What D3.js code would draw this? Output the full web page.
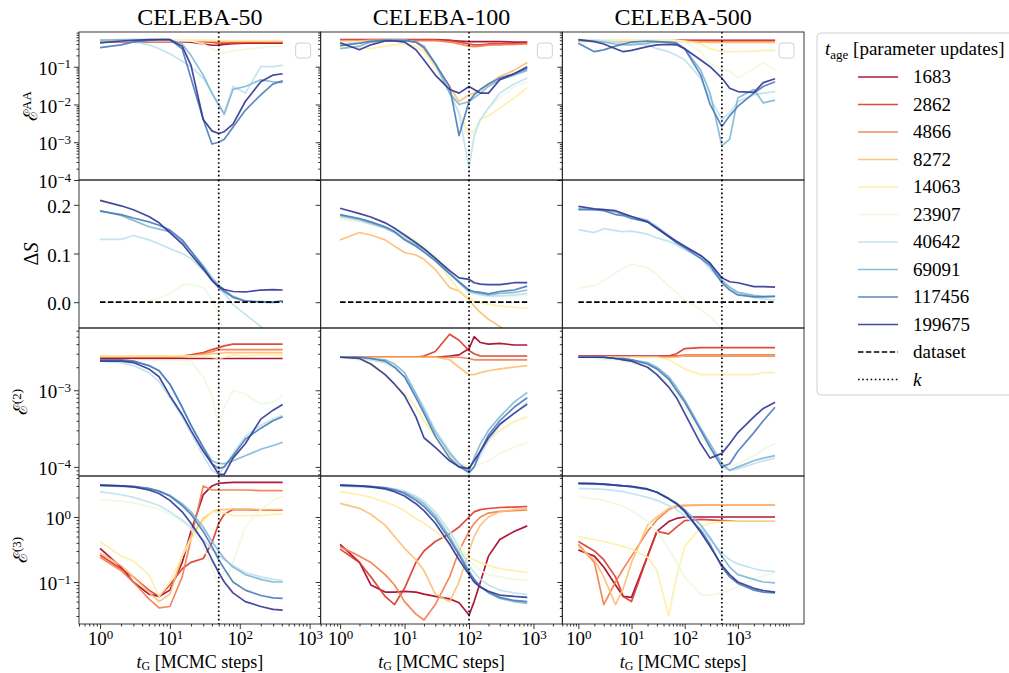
<!DOCTYPE html>
<html>
<head>
<meta charset="utf-8">
<script src="https://cdn.jsdelivr.net/npm/d3@7"></script>
<style>
body { margin: 0; background: #fff; }
svg text { font-family: "Liberation Serif", "Times New Roman", Times, serif; fill: #000; }
</style>
</head>
<body>
<div id="vis"></div>
<script>
// columns and shared values
var titles = ["CELEBA-50", "CELEBA-100", "CELEBA-500"];
var kSteps = [50, 100, 500];
var tMax = [411, 800, 5000];
var tAge = [1683, 2862, 4866, 8272, 14063, 23907, 40642, 69091, 117456, 199675];
var colors = ["#a50026", "#da372a", "#f67b4a", "#fdbf71", "#feeea5", "#eef8df", "#bce2ee", "#80b7d6", "#4a7bb7", "#313695"];

// MCMC steps where each column was sampled
var tG50 = [1, 2, 3, 5, 7, 10, 15, 20, 30, 40, 50, 60, 80, 120, 200, 300, 411];
var tG100 = [1, 2, 3, 5, 7, 10, 15, 20, 30, 50, 70, 100, 120, 150, 200, 300, 500, 800];
var tG500 = [1, 2, 3, 5, 7, 10, 20, 30, 50, 70, 100, 200, 300, 500, 700, 1000, 2000, 3000, 5000];

// E^AA
var eAA50 = [
  [.46,.46,.46,.46,.46,.46,.46,.45,.40,.37,.37,.39,.41,.42,.42,.42,.42],
  [.47,.47,.47,.47,.47,.47,.47,.47,.46,.44,.42,.42,.43,.44,.44,.44,.44],
  [.48,.48,.48,.48,.48,.48,.48,.48,.48,.47,.46,.46,.46,.46,.46,.46,.46],
  [.49,.49,.49,.49,.49,.49,.49,.49,.49,.49,.48,.48,.48,.48,.48,.48,.48],
  [.5,.5,.5,.5,.5,.5,.5,.5,.5,.5,.5,.49,.49,.49,.49,.49,.49],
  [.5,.5,.5,.5,.5,.5,.5,.48,.4,.3,.25,.23,.26,.29,.32,.34,.34],
  [.52,.5,.46,.38,.3,.22,.14,.1,.05,.02,.009,.006,.03,.02,.1,.1,.11],
  [.5,.52,.52,.52,.52,.52,.4,.2,.06,.02,.01,.0055,.025,.03,.045,.04,.038],
  [.32,.38,.45,.5,.52,.52,.3,.05,.004,.0009,.001,.0012,.0025,.007,.018,.035,.042],
  [.43,.48,.5,.52,.52,.52,.35,.11,.004,.002,.0017,.0019,.003,.012,.04,.06,.065]
];
var eAA100 = [
  [.52,.52,.52,.52,.52,.52,.52,.52,.52,.5,.48,.46,.46,.46,.46,.46,.45,.45],
  [.5,.5,.5,.5,.5,.5,.5,.5,.5,.5,.45,.4,.38,.38,.4,.4,.41,.42],
  [.5,.5,.5,.5,.5,.5,.5,.5,.5,.45,.4,.35,.34,.35,.37,.38,.39,.4],
  [.48,.48,.5,.5,.5,.5,.45,.3,.1,.03,.012,.018,.02,.025,.035,.055,.08,.13],
  [.35,.32,.3,.35,.38,.4,.35,.25,.1,.02,.006,.0018,.002,.004,.005,.008,.015,.028],
  [.45,.45,.45,.48,.5,.5,.45,.35,.12,.02,.006,.0012,.002,.004,.008,.015,.03,.04],
  [.4,.42,.45,.48,.5,.5,.45,.35,.12,.02,.006,.0002,.0015,.004,.008,.02,.035,.05],
  [.3,.35,.45,.5,.5,.5,.45,.35,.12,.02,.01,.012,.015,.02,.03,.045,.06,.08],
  [.36,.42,.47,.5,.5,.5,.45,.32,.12,.03,.0015,.012,.018,.025,.035,.05,.065,.09],
  [.43,.28,.38,.48,.48,.45,.28,.15,.06,.025,.02,.03,.025,.02,.02,.045,.065,.1]
];
var eAA500 = [
  [.5,.5,.5,.5,.5,.5,.5,.5,.5,.5,.5,.5,.5,.5,.5,.5,.5,.5,.5],
  [.49,.49,.49,.49,.49,.49,.49,.49,.49,.49,.49,.48,.48,.48,.48,.48,.48,.48,.48],
  [.48,.48,.48,.48,.48,.48,.48,.48,.48,.48,.47,.46,.46,.46,.46,.46,.46,.46,.46],
  [.47,.47,.47,.47,.47,.47,.47,.47,.47,.47,.46,.45,.44,.44,.44,.44,.44,.44,.44],
  [.5,.5,.5,.5,.5,.5,.5,.5,.5,.5,.48,.4,.3,.25,.25,.25,.26,.27,.27],
  [.52,.52,.52,.52,.52,.52,.52,.52,.52,.5,.45,.25,.12,.085,.075,.05,.09,.13,.08],
  [.52,.5,.48,.45,.42,.4,.38,.3,.25,.2,.15,.05,.015,.004,.006,.012,.018,.02,.022],
  [.5,.48,.45,.4,.38,.38,.42,.45,.45,.42,.3,.08,.02,.0008,.0012,.015,.025,.011,.013],
  [.42,.25,.28,.35,.4,.45,.48,.46,.44,.42,.3,.06,.01,.0026,.005,.009,.02,.03,.04],
  [.52,.46,.4,.3,.25,.27,.34,.38,.39,.38,.3,.15,.1,.05,.027,.022,.021,.038,.048]
];

// Delta S
var dS50 = [
  null, null, null, null, null,
  [0,0,0,.003,.008,.018,.035,.037,.03,.005,-.025,-.06,-.12,-.2,-.2,-.2,-.2],
  [.129,.129,.137,.128,.12,.11,.1,.09,.065,.045,.03,.018,-.005,-.025,-.05,-.07,-.09],
  [.188,.178,.168,.155,.15,.145,.125,.105,.075,.05,.035,.025,.012,.003,0,-.001,.002],
  [.187,.18,.173,.165,.158,.148,.128,.105,.072,.045,.03,.022,.01,.002,.001,0,.003],
  [.209,.198,.19,.176,.163,.143,.12,.098,.068,.045,.032,.026,.022,.021,.025,.026,.025]
];
var dS100 = [
  null, null, null,
  [.128,.143,.138,.128,.115,.102,.097,.088,.067,.03,.023,.006,-.008,-.021,-.035,-.05,-.07,-.09],
  [.175,.17,.163,.152,.144,.132,.118,.105,.085,.05,.025,.008,.002,-.002,-.004,-.008,-.01,-.012],
  [.17,.165,.16,.152,.146,.14,.127,.115,.095,.065,.042,.024,.02,.016,.013,.012,.013,.015],
  [.175,.168,.16,.152,.145,.135,.122,.11,.092,.062,.04,.022,.018,.015,.013,.013,.015,.018],
  [.178,.17,.163,.153,.143,.13,.118,.108,.09,.06,.04,.022,.02,.018,.015,.018,.02,.025],
  [.18,.172,.165,.155,.145,.128,.115,.103,.085,.058,.042,.025,.022,.02,.017,.022,.025,.033],
  [.193,.182,.175,.163,.152,.138,.122,.11,.09,.065,.05,.047,.04,.037,.036,.036,.04,.04]
];
var dS500 = [
  null, null, null, null, null,
  [.029,.034,.045,.06,.07,.078,.071,.057,.033,.02,.005,-.015,-.03,-.055,-.07,-.08,-.1,-.1,-.1],
  [.149,.143,.151,.147,.145,.146,.14,.132,.125,.118,.108,.09,.068,.045,.032,.02,.01,.007,.004],
  [.192,.19,.19,.185,.18,.176,.168,.155,.137,.125,.114,.095,.08,.045,.03,.02,.014,.012,.012],
  [.19,.19,.188,.18,.178,.172,.165,.152,.135,.122,.112,.09,.075,.04,.025,.015,.011,.011,.012],
  [.197,.192,.19,.188,.182,.176,.165,.152,.135,.125,.115,.096,.08,.05,.042,.04,.032,.032,.031]
];

// E^(2)
var e2_50 = [
  [.0026,.0026,.0026,.0026,.0026,.0026,.0026,.0026,.0026,.0026,.0026,.0026,.0026,.0026,.0026,.0026,.0026],
  [.0027,.0027,.0027,.0027,.0027,.0027,.0028,.0029,.0031,.0034,.0036,.0038,.004,.004,.004,.004,.004],
  [.0027,.0027,.0027,.0027,.0027,.0027,.0027,.0028,.003,.0032,.0034,.0034,.0034,.0034,.0034,.0034,.0034],
  [.0028,.0028,.0028,.0028,.0028,.0028,.0028,.0028,.0029,.003,.003,.0031,.0031,.0031,.0031,.0031,.0031],
  [.0028,.0028,.0028,.0028,.0028,.0028,.0028,.0028,.0028,.0027,.0026,.0027,.0029,.0028,.0029,.0029,.0029],
  [.00245,.00245,.00245,.00245,.00245,.00245,.00245,.0024,.0015,.00085,.00033,.0006,.001,.0009,.00066,.0007,.00085],
  [.0024,.0023,.0021,.0017,.0013,.0008,.00045,.00028,.00014,.00009,.00008,.0001,.00015,.00025,.00035,.00042,.00047],
  [.0025,.0025,.0024,.0021,.0018,.0012,.0006,.00035,.00018,.00012,.00011,.00011,.00012,.00014,.00017,.00019,.00021],
  [.0025,.0025,.0024,.0021,.0018,.0012,.0006,.00035,.00018,.00011,.000095,.0001,.00014,.00023,.00032,.0004,.00045],
  [.0024,.0024,.0023,.0019,.0015,.00085,.00048,.0003,.00016,.00011,.00008,.00008,.00013,.0002,.00042,.00055,.00065]
];
var e2_100 = [
  [.0027,.0027,.0027,.0027,.0027,.0027,.0027,.0027,.0027,.0028,.0029,.0035,.005,.0042,.004,.0041,.0039,.0039],
  [.0027,.0027,.0027,.0027,.0027,.0027,.0027,.0028,.0032,.0054,.0045,.0033,.003,.0028,.0028,.0028,.0028,.0028],
  [.0027,.0027,.0027,.0027,.0027,.0027,.0027,.0027,.0027,.0027,.0027,.0026,.0025,.0025,.0025,.0025,.0025,.0025],
  [.0027,.0027,.0027,.0027,.0027,.0027,.0027,.0027,.0027,.0025,.002,.0016,.0016,.0017,.0018,.0019,.002,.0021],
  [.0027,.0025,.0022,.0016,.0012,.0009,.0006,.0004,.00025,.00014,.00011,.0001,.00012,.00016,.00022,.0003,.00039,.00045],
  [.0027,.0026,.0025,.0022,.0019,.0015,.0009,.0006,.0003,.00016,.00011,.00009,.0001,.00011,.00012,.00015,.00018,.00021],
  [.0027,.0026,.0025,.0023,.002,.0015,.0009,.0006,.0003,.00016,.00011,.00008,.0001,.00014,.00022,.00035,.0005,.0007],
  [.0027,.0027,.0026,.0025,.0022,.0017,.0009,.00055,.00028,.00015,.00011,.00009,.00013,.0002,.0003,.00045,.0007,.00094],
  [.0027,.0027,.0026,.0024,.002,.0015,.0008,.0005,.00025,.00013,.0001,.000085,.0001,.00016,.00026,.0004,.0006,.0008],
  [.0027,.0026,.0022,.0016,.0012,.00085,.00045,.00024,.00018,.00012,.0001,.000095,.00012,.00016,.00024,.00036,.0005,.00066]
];
var e2_500 = [
  [.0028,.0028,.0028,.0028,.0028,.0028,.0028,.0028,.0028,.0028,.0028,.0028,.0028,.0028,.0028,.0028,.0028,.0028,.0028],
  [.0027,.0027,.0027,.0027,.0027,.0027,.0027,.0027,.0028,.003,.0035,.0036,.0036,.0036,.0036,.0036,.0036,.0036,.0036],
  [.0027,.0027,.0027,.0027,.0027,.0027,.0027,.0027,.0027,.0028,.0029,.0029,.0029,.0029,.0029,.0029,.0029,.0029,.0029],
  [.0027,.0027,.0027,.0027,.0027,.0027,.0027,.0027,.0027,.0027,.0028,.0028,.0028,.0028,.0028,.0028,.0028,.0028,.0028],
  [.0027,.0027,.0027,.0027,.0027,.0027,.0027,.0027,.0025,.0022,.0019,.0016,.0016,.0016,.0016,.0016,.0016,.0017,.0017],
  [.0026,.0026,.0025,.0025,.0024,.0023,.002,.0017,.0012,.0009,.0006,.00025,.00016,.00011,.0001,.00011,.00014,.00017,.0002],
  [.0027,.0027,.0026,.0026,.0025,.0025,.0022,.0019,.0014,.001,.0007,.0003,.00018,.0001,.00009,.000095,.00011,.00012,.00013],
  [.0027,.0027,.0027,.0026,.0026,.0025,.0023,.002,.0015,.0011,.00075,.00032,.0002,.00011,.00009,.0001,.00012,.00013,.00014],
  [.0027,.0027,.0027,.0026,.0026,.0025,.0022,.0019,.0014,.001,.0007,.0003,.00018,.0001,.00011,.00016,.00028,.0004,.0006],
  [.0027,.0027,.0027,.0026,.0025,.0024,.002,.0016,.0011,.0008,.0005,.0002,.00013,.00015,.0002,.00028,.00045,.00058,.0007]
];

// E^(3)
var e3_50 = [
  [.33,.17,.1,.065,.06,.075,.2,.6,2.2,3.0,3.3,3.35,3.4,3.4,3.4,3.4,3.4],
  [.26,.16,.12,.075,.06,.09,.16,.2,.23,.4,.8,1.1,1.3,1.3,1.28,1.27,1.27],
  [.24,.15,.1,.055,.04,.042,.12,.45,3.0,2.6,2.6,2.6,2.6,2.6,2.55,2.55,2.55],
  [.28,.18,.12,.07,.05,.065,.25,.5,.95,1.2,1.3,1.3,1.32,1.32,1.3,1.3,1.3],
  [.42,.25,.21,.13,.06,.1,.25,.45,.85,1.2,1.2,1.15,1.05,1.05,1.05,1.1,1.12],
  [1.85,1.75,1.65,1.45,1.3,1.1,.85,.65,.35,.17,.09,.09,.2,.7,1.3,1.8,2.1],
  [2.45,2.2,2.0,1.7,1.5,1.2,.9,.7,.45,.32,.26,.22,.18,.14,.12,.11,.105],
  [3.0,2.95,2.9,2.7,2.5,2.15,1.6,1.2,.7,.42,.3,.23,.17,.13,.11,.1,.1],
  [3.1,3.0,2.95,2.75,2.5,2.1,1.5,1.1,.6,.35,.22,.16,.1,.075,.062,.057,.056],
  [3.1,3.0,2.9,2.6,2.3,1.8,1.2,.8,.42,.22,.14,.1,.068,.05,.042,.038,.037]
];
var e3_100 = [
  [.38,.2,.09,.07,.07,.072,.07,.065,.06,.055,.048,.031,.05,.1,.25,.45,.6,.73],
  [.32,.2,.12,.06,.045,.08,.2,.3,.42,.55,.7,1.0,1.2,1.3,1.35,1.4,1.42,1.45],
  [.35,.25,.2,.13,.09,.05,.032,.026,.045,.12,.3,.6,.8,1.0,1.15,1.22,1.25,1.28],
  [1.62,1.36,1.1,.75,.5,.33,.22,.15,.065,.05,.1,.3,.5,.75,1.0,1.2,1.3,1.36],
  [2.45,2.2,2.0,1.7,1.5,1.25,.95,.8,.6,.4,.3,.24,.22,.2,.18,.16,.15,.14],
  [2.9,2.85,2.8,2.7,2.55,2.3,1.9,1.6,1.1,.6,.38,.22,.18,.15,.13,.12,.11,.107],
  [3.0,2.95,2.9,2.85,2.7,2.5,2.1,1.75,1.2,.6,.33,.18,.14,.11,.09,.075,.068,.064],
  [3.0,2.95,2.9,2.8,2.65,2.4,1.95,1.6,1.05,.5,.28,.15,.11,.085,.068,.056,.05,.047],
  [3.1,3.0,2.95,2.8,2.6,2.3,1.8,1.45,.95,.45,.26,.14,.11,.085,.07,.058,.052,.05],
  [3.1,3.0,2.9,2.7,2.45,2.1,1.6,1.25,.8,.38,.22,.13,.1,.083,.072,.063,.06,.058]
];
var e3_500 = [
  [.31,.25,.17,.09,.06,.058,.25,.6,.85,.95,1.0,1.0,1.0,1.0,1.0,1.0,1.0,1.0,1.0],
  [.42,.3,.22,.12,.06,.05,.25,.6,.55,.7,.88,.92,.9,.88,.87,.87,.87,.87,.87],
  [.38,.2,.045,.1,.16,.25,.6,.9,1.3,1.45,1.5,1.52,1.52,1.53,1.53,1.53,1.53,1.53,1.53],
  [.35,.22,.12,.045,.08,.2,.75,1.0,1.35,1.5,1.52,1.53,1.53,1.53,1.53,1.53,1.53,1.53,1.53],
  [.5,.45,.42,.38,.35,.32,.24,.15,.03,.12,.35,.7,.8,.85,.86,.87,.87,.87,.87],
  [2.05,1.9,1.8,1.6,1.45,1.25,.85,.6,.33,.2,.12,.065,.062,.068,.075,.085,.11,.125,.14],
  [2.75,2.7,2.65,2.55,2.45,2.3,2.0,1.8,1.5,1.3,1.05,.65,.45,.28,.22,.19,.16,.15,.144],
  [3.25,3.2,3.15,3.05,3.0,2.9,2.65,2.4,1.95,1.65,1.3,.75,.48,.25,.17,.13,.11,.1,.097],
  [3.3,3.25,3.2,3.1,3.0,2.92,2.65,2.4,1.9,1.6,1.2,.62,.38,.17,.12,.095,.075,.07,.068],
  [3.3,3.25,3.2,3.1,3.0,2.95,2.7,2.4,1.9,1.6,1.25,.58,.35,.18,.13,.1,.08,.074,.07]
];

var tGs = [tG50, tG100, tG500];
var grid = [
  [eAA50, eAA100, eAA500],
  [dS50, dS100, dS500],
  [e2_50, e2_100, e2_500],
  [e3_50, e3_100, e3_500]
];

var rowsSpec = [
  {log: true, domain: [1e-4, 0.83], major: [1e-4, 1e-3, 1e-2, 1e-1], lab: ["\u2130", "AA"], lx: 37},
  {log: false, domain: [-0.053, 0.251], major: [0, 0.1, 0.2], lab: null, lx: 38},
  {log: true, domain: [7.6e-5, 6.5e-3], major: [1e-4, 1e-3], lab: ["\u2130", "(2)"], lx: 27},
  {log: true, domain: [0.0226, 4.27], major: [0.1, 1], lab: ["\u2130", "(3)"], lx: 27}
];

var FONT = '"Liberation Serif", "Times New Roman", Times, serif';
var svg = d3.select('#vis').append('svg').attr('width', 1009).attr('height', 673)
  .attr('font-family', FONT);
var left0 = 79, colW = 241.67, top0 = 32, rowH = 148;

function isDecade(v) {
  var l = Math.log10(v);
  return Math.abs(l - Math.round(l)) < 1e-6;
}
function powLabel(sel) {
  sel.each(function(d) {
    var t = d3.select(this);
    var e = Math.round(Math.log10(d));
    t.text(null);
    t.append('tspan').text('10');
    t.append('tspan').attr('dy', '-0.5em').attr('font-size', 13).text(e < 0 ? '\u2212' + (-e) : e);
  });
}

for (var c = 0; c < 3; c++) {
  var x0 = left0 + c * colW;
  var x = d3.scaleLog().domain([0.5, tMax[c] * 3.5]).range([x0, x0 + colW]);
  var tG = tGs[c];

  svg.append('text').attr('x', x0 + colW / 2).attr('y', 25)
    .attr('text-anchor', 'middle').attr('font-size', 24).text(titles[c]);

  for (var r = 0; r < 4; r++) {
    var spec = rowsSpec[r];
    var y0 = top0 + r * rowH;
    var y = (spec.log ? d3.scaleLog() : d3.scaleLinear()).domain(spec.domain).range([y0 + rowH, y0]);
    var id = 'clip' + r + c;
    svg.append('clipPath').attr('id', id).append('rect')
      .attr('x', x0).attr('y', y0).attr('width', colW).attr('height', rowH);
    var g = svg.append('g').attr('clip-path', 'url(#' + id + ')');

    var line = d3.line().x(function(d) { return x(d[0]); }).y(function(d) { return y(d[1]); });

    grid[r][c].forEach(function(vals, i) {
      if (!vals) return;
      g.append('path')
        .attr('d', line(tG.map(function(t, j) { return [t, vals[j]]; })))
        .attr('fill', 'none').attr('stroke', colors[i])
        .attr('stroke-width', 1.7).attr('stroke-opacity', 0.9)
        .attr('stroke-linejoin', 'round');
    });

    if (r == 1) {
      g.append('line').attr('x1', x(1)).attr('x2', x(tMax[c])).attr('y1', y(0)).attr('y2', y(0))
        .attr('stroke', '#000').attr('stroke-width', 1.7).attr('stroke-dasharray', '5.5,2.4');
    }
    g.append('line').attr('x1', x(kSteps[c])).attr('x2', x(kSteps[c])).attr('y1', y0).attr('y2', y0 + rowH)
      .attr('stroke', '#000').attr('stroke-width', 1.7).attr('stroke-dasharray', '1.6,2.6');

    // empty legend box left by matplotlib
    if (r == 0) {
      svg.append('rect').attr('x', x0 + colW - 25).attr('y', y0 + 11).attr('width', 15).attr('height', 15)
        .attr('rx', 3).attr('fill', '#fff').attr('fill-opacity', 0.8).attr('stroke', '#d0d0d0');
    }

    // y axis
    var ya = svg.append('g').attr('transform', 'translate(' + x0 + ',0)');
    var yMajor = d3.axisLeft(y).tickValues(spec.major).tickSize(5).tickPadding(3);
    if (c > 0) yMajor.tickFormat('');
    else if (!spec.log) yMajor.tickFormat(d3.format('.1f'));
    ya.call(yMajor);
    if (spec.log) {
      var minors = y.ticks().filter(function(v) { return !isDecade(v); });
      ya.append('g').call(d3.axisLeft(y).tickValues(minors).tickSize(2.5).tickFormat(''));
    }
    ya.selectAll('.domain').remove();
    ya.attr('font-family', FONT);
    ya.selectAll('g').attr('font-family', FONT);
    ya.selectAll('line').attr('stroke-width', 0.8);
    ya.selectAll('text').attr('font-size', 19).attr('dy', '0.4em');
    if (c == 0 && spec.log) ya.selectAll('.tick text').filter(function() { return this.textContent !== ''; }).call(powLabel);

    // bottom axis
    if (r == 3) {
      var xa = svg.append('g').attr('transform', 'translate(0,' + (y0 + rowH) + ')');
      xa.call(d3.axisBottom(x).tickValues([1, 10, 100, 1000]).tickSize(5).tickPadding(3));
      var xMinor = x.ticks().filter(function(v) { return !isDecade(v); });
      xa.append('g').call(d3.axisBottom(x).tickValues(xMinor).tickSize(2.5).tickFormat(''));
      xa.selectAll('.domain').remove();
      xa.attr('font-family', FONT);
      xa.selectAll('g').attr('font-family', FONT);
      xa.selectAll('line').attr('stroke-width', 0.8);
      xa.selectAll('text').attr('font-size', 19).attr('dy', '0.7em');
      xa.selectAll('.tick text').filter(function() { return this.textContent !== ''; }).call(powLabel);

      var xl = svg.append('text').attr('x', x0 + colW / 2).attr('y', 668)
        .attr('text-anchor', 'middle').attr('font-size', 18);
      xl.append('tspan').attr('font-style', 'italic').text('t');
      xl.append('tspan').attr('font-size', 12).attr('dy', 2).text('G');
      xl.append('tspan').attr('dy', -2).text(' [MCMC steps]');
    }

    // frame
    svg.append('rect').attr('x', x0).attr('y', y0).attr('width', colW).attr('height', rowH)
      .attr('fill', 'none').attr('stroke', '#222').attr('stroke-width', 0.9);

    if (c == 0) {
      var cy = y0 + rowH / 2;
      var yl = svg.append('text').attr('transform', 'translate(' + spec.lx + ',' + cy + ') rotate(-90)')
        .attr('text-anchor', 'middle').attr('font-size', 20);
      if (spec.lab) {
        yl.append('tspan').attr('font-family', '"DejaVu Serif", serif').attr('font-size', 19).text(spec.lab[0]);
        yl.append('tspan').attr('dy', '-0.5em').attr('font-size', 13).text(spec.lab[1]);
      } else {
        yl.append('tspan').text('\u0394');
        yl.append('tspan').attr('font-style', 'italic').text('S');
      }
    }
  }
}

// legend
var lg = svg.append('g');
lg.append('rect').attr('x', 817).attr('y', 33).attr('width', 205).attr('height', 362).attr('rx', 4)
  .attr('fill', '#fff').attr('stroke', '#d0d0d0');
var lt = lg.append('text').attr('x', 825).attr('y', 55).attr('font-size', 19);
lt.append('tspan').attr('font-style', 'italic').text('t');
lt.append('tspan').attr('font-size', 13).attr('dy', 4).text('age');
lt.append('tspan').attr('dy', -4).text(' [parameter updates]');

var items = tAge.map(function(a, i) { return {label: String(a), color: colors[i], dash: null}; });
items.push({label: 'dataset', color: '#000', dash: '5.5,2.4'});
items.push({label: 'k', color: '#000', dash: '1.6,2.6', italic: true});
items.forEach(function(it, i) {
  var yy = 77 + i * 27.5;
  lg.append('line').attr('x1', 858).attr('x2', 898).attr('y1', yy).attr('y2', yy)
    .attr('stroke', it.color).attr('stroke-width', 1.7).attr('stroke-opacity', it.dash ? 1 : 0.9)
    .attr('stroke-dasharray', it.dash);
  lg.append('text').attr('x', 913).attr('y', yy + 6).attr('font-size', 19)
    .attr('font-style', it.italic ? 'italic' : null).text(it.label);
});
</script>
</body>
</html>
